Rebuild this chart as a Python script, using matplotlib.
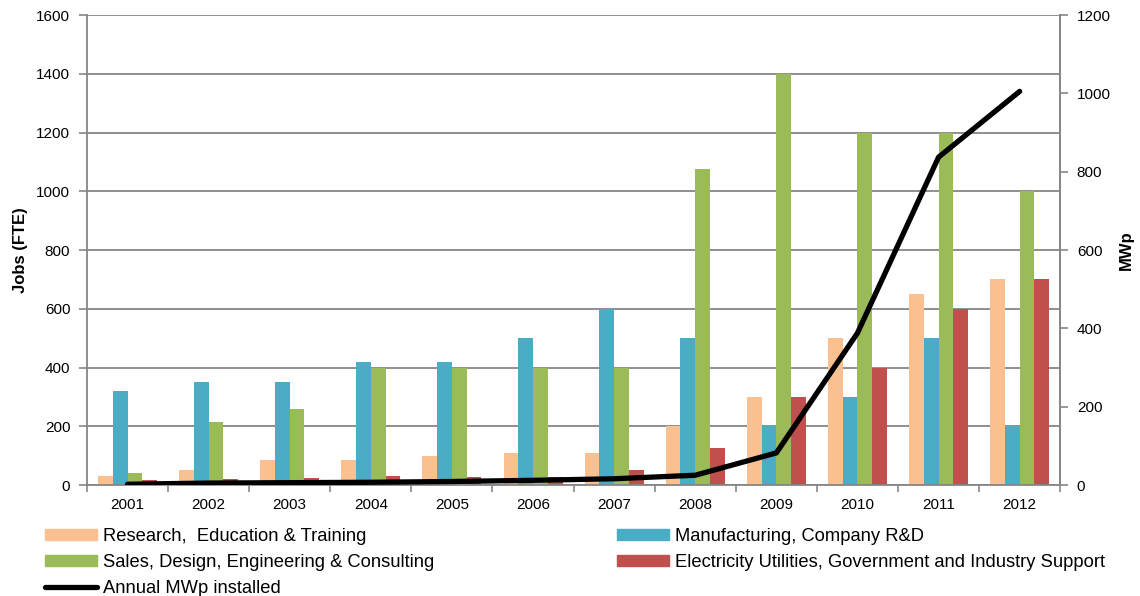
import numpy as np
import matplotlib
matplotlib.use('Agg')
from matplotlib import pyplot as plt
from matplotlib.patches import Patch
from matplotlib.lines import Line2D

plt.rcParams['font.family'] = ['Liberation Sans', 'DejaVu Sans']

#%% DATA
years = ['2001', '2002', '2003', '2004', '2005', '2006',
         '2007', '2008', '2009', '2010', '2011', '2012']
research = [30, 50, 85, 85, 100, 110, 110, 200, 300, 500, 650, 700]
manufacturing = [320, 350, 350, 420, 420, 500, 600, 500, 200, 300, 500, 200]
sales = [40, 215, 260, 400, 400, 400, 400, 1075, 1400, 1200, 1200, 1000]
utilities = [18, 20, 24, 30, 28, 28, 50, 125, 300, 400, 600, 700]
mwp = [2, 5, 6, 7, 9, 12, 16, 25, 82, 388, 837, 1005]

names = ['Research,  Education & Training',
         'Manufacturing, Company R&D',
         'Sales, Design, Engineering & Consulting',
         'Electricity Utilities, Government and Industry Support']
colours = ['#FAC090', '#4BACC6', '#9BBB59', '#C0504D']
lineName = 'Annual MWp installed'

#%% PLOT
gridCol = '#868686'
fig = plt.figure(figsize=(11.4, 5.96), dpi=100)
ax = fig.add_axes([0.0763, 0.1862, 0.8537, 0.7886])

x = np.arange(len(years))
w = 1/5.5
for k, (vals, col) in enumerate(zip([research, manufacturing, sales, utilities], colours)):
    ax.bar(x + (k-1.5)*w, vals, w, color=col, zorder=2)

ax.set_xlim(-0.5, len(years)-0.5)
ax.set_ylim(0, 1600)
ax.set_yticks(range(0, 1601, 200))
ax.set_axisbelow(True)
ax.yaxis.grid(True, color=gridCol, linewidth=1.3)
ax.set_xticks(x)
ax.set_xticklabels(years, fontsize=11)
ax.set_xticks(np.arange(-0.5, len(years)), minor=True)
ax.tick_params(axis='x', which='major', length=0, pad=9)
ax.tick_params(axis='x', which='minor', length=5, color=gridCol, width=1.2)
ax.tick_params(axis='y', labelsize=11, length=6, color=gridCol, width=1.2, pad=6)
ax.set_ylabel('Jobs (FTE)', fontsize=12, fontweight='bold', labelpad=6)
for s in ['left', 'bottom', 'right']:
    ax.spines[s].set_color(gridCol)
    ax.spines[s].set_linewidth(1.3)
ax.spines['top'].set_visible(False)

ax2 = ax.twinx()
ax2.plot(x, mwp, color='black', linewidth=3.8, solid_capstyle='round', zorder=3)
ax2.set_ylim(0, 1200)
ax2.set_yticks(range(0, 1201, 200))
ax2.tick_params(axis='y', labelsize=11, length=6, color=gridCol, width=1.2, pad=6)
ax2.set_ylabel('MWp', fontsize=12, fontweight='bold', labelpad=6)
for s in ['left', 'bottom', 'top']:
    ax2.spines[s].set_visible(False)
ax2.spines['right'].set_color(gridCol)
ax2.spines['right'].set_linewidth(1.3)

#%% LEGEND
legKw = dict(frameon=False, fontsize=13.2, handlelength=2.84, handleheight=0.55,
             handletextpad=0.33, labelspacing=0.48, borderpad=0, borderaxespad=0,
             loc='upper left')
leftHandles = [Patch(color=colours[0]), Patch(color=colours[2]),
               Line2D([], [], color='black', linewidth=3.8, solid_capstyle='round')]
fig.legend(leftHandles, [names[0], names[2], lineName],
           bbox_to_anchor=(45/1140, 1-528/596), **legKw)
rightHandles = [Patch(color=colours[1]), Patch(color=colours[3])]
fig.legend(rightHandles, [names[1], names[3]],
           bbox_to_anchor=(617/1140, 1-528/596), **legKw)

fig.savefig('out.png', dpi=100)
